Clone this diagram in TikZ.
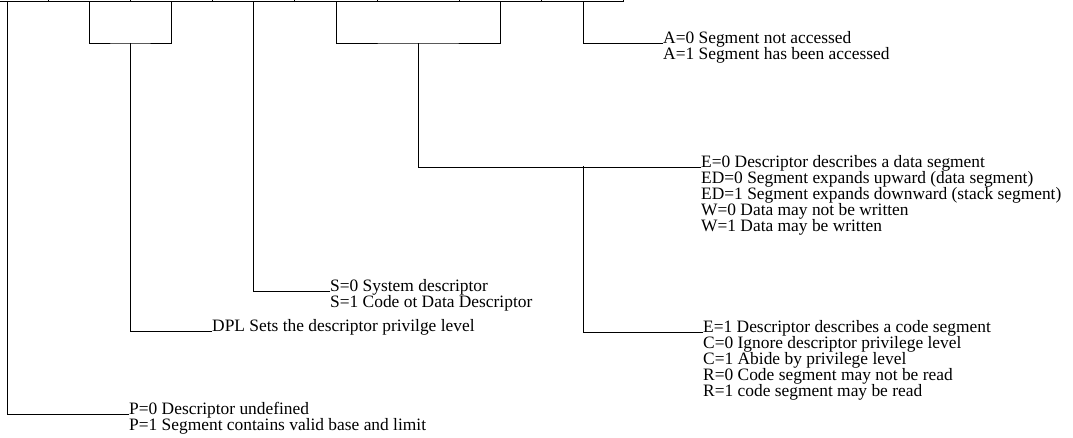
\documentclass[tikz,border=0pt]{standalone}
\usepackage{fontspec}
\setmainfont{Liberation Serif}
\newcommand\descfont{\fontsize{17.4}{16.2}\selectfont}
\newcommand\desclines[1]{\vtop{\baselineskip=16.2pt\lineskiplimit=-20pt\let\\\cr\halign{##\hfil\cr#1\crcr}}}

\begin{document}
\begin{tikzpicture}
[
x=1pt,y=-1pt,
wire/.style={draw,line width=0.9pt,line cap=rect},
desc/.style={anchor=base west,inner sep=0pt,font=\descfont},
]
\useasboundingbox (0,0) rectangle (1073,437);
\clip (0,0) rectangle (1073,437);

%Place the bit row
\foreach \bx in {48,130.25,212.5,294.75,377,459.25,541.5,623.75}
  \draw[wire] (\bx,1.5) -- (\bx,-10);
\coordinate (rowl) at (0,1.5);
\coordinate (rowr) at (623.75,1.5);
\draw[wire] (rowl) -- (rowr);

%Place the stems
\coordinate (p) at (7,1.5);
\coordinate (dpl1) at (89,1.5);
\coordinate (dpl2) at (171.5,1.5);
\coordinate (s) at (253.5,1.5);
\coordinate (t1) at (336,1.5);
\coordinate (t2) at (500.5,1.5);
\coordinate (a) at (583,1.5);
\coordinate (dplj) at (130.25,43);
\coordinate (tj) at (418,43);
\coordinate (ej) at (583,166);

%Place the texts
\node[desc] (ainfo) at (663,43) {\desclines{A=0 Segment not accessed\\A=1 Segment has been accessed}};
\node[desc] (datainfo) at (701,167) {\desclines{E=0 Descriptor describes a data segment\\ED=0 Segment expands upward (data segment)\\ED=1 Segment expands downward (stack segment)\\W=0 Data may not be written\\W=1 Data may be written}};
\node[desc] (codeinfo) at (703,332) {\desclines{E=1 Descriptor describes a code segment\\C=0 Ignore descriptor privilege level\\C=1 Abide by privilege level\\R=0 Code segment may not be read\\R=1 code segment may be read}};
\node[desc] (sinfo) at (330,291) {\desclines{S=0 System descriptor\\S=1 Code ot Data Descriptor}};
\node[desc] (dplinfo) at (212,331) {\desclines{DPL Sets the descriptor privilge level}};
\node[desc] (pinfo) at (129,414) {\desclines{P=0 Descriptor undefined\\P=1 Segment contains valid base and limit}};

%Draw the connections
\draw[wire] (a) |- (ainfo.base west);
\draw[wire] (t1) |- (tj) -| (t2);
\draw[wire] (tj) |- (datainfo.base west);
\draw[wire] (ej) |- (codeinfo.base west);
\draw[wire] (s) |- (sinfo.base west);
\draw[wire] (dpl1) |- (dplj) -| (dpl2);
\draw[wire] (dplj) |- (dplinfo.base west);
\draw[wire] (p) |- (pinfo.base west);
\end{tikzpicture}
\end{document}
